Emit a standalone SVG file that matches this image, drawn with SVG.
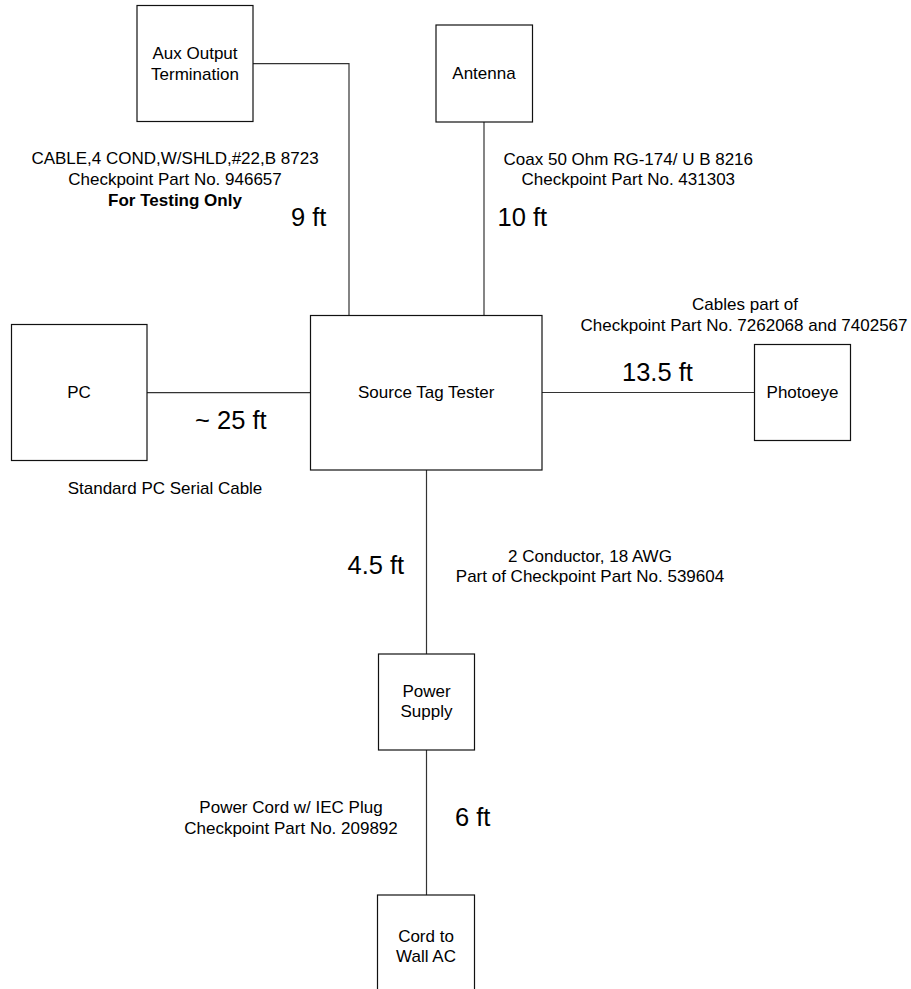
<svg xmlns="http://www.w3.org/2000/svg" width="911" height="989" viewBox="0 0 911 989">
<style>
.box{fill:#fff;stroke:#111;stroke-width:1.2}
.wire{fill:none;stroke:#333;stroke-width:1.2}
text{font-family:"Liberation Sans",Arial,sans-serif;fill:#000}
.n{font-size:17px;text-anchor:middle}
.s{font-size:17px;text-anchor:middle}
.b{font-size:17px;text-anchor:middle;font-weight:bold}
.l{font-size:25.5px}
</style>
<rect width="911" height="989" fill="#fff"/>
<g id="connectors">
<path class="wire" d="M253,63.7 H349 V315"/>
<path class="wire" d="M484,122 V315"/>
<path class="wire" d="M147,392.7 H310"/>
<path class="wire" d="M542,392.5 H754"/>
<path class="wire" d="M426.5,470 V654"/>
<path class="wire" d="M426.5,750 V895"/>
</g>
<g id="aux">
<rect class="box" x="137" y="5.5" width="116" height="116"/>
<text class="n" x="195" y="59">Aux Output</text>
<text class="n" x="195" y="79.5">Termination</text>
</g>
<g id="antenna">
<rect class="box" x="436" y="25" width="96.5" height="97"/>
<text class="n" x="484" y="79">Antenna</text>
</g>
<g id="stt">
<rect class="box" x="310.5" y="315.5" width="231.5" height="154.5"/>
<text class="n" x="426.2" y="398">Source Tag Tester</text>
</g>
<g id="pc">
<rect class="box" x="11.5" y="324.5" width="135.5" height="136"/>
<text class="n" x="79" y="398">PC</text>
</g>
<g id="photoeye">
<rect class="box" x="754.5" y="344.5" width="96" height="96"/>
<text class="n" x="802.5" y="398">Photoeye</text>
</g>
<g id="power">
<rect class="box" x="378.5" y="654" width="96" height="96"/>
<text class="n" x="426.5" y="697">Power</text>
<text class="n" x="426.5" y="717">Supply</text>
</g>
<g id="cord">
<rect class="box" x="377.5" y="895" width="97" height="100"/>
<text class="n" x="426" y="941.5">Cord to</text>
<text class="n" x="426" y="962">Wall AC</text>
</g>
<g id="labels">
<text class="s" x="175" y="164">CABLE,4 COND,W/SHLD,#22,B 8723</text>
<text class="s" x="175" y="185">Checkpoint Part No. 946657</text>
<text class="b" x="175" y="206">For Testing Only</text>
<text class="l" x="291" y="226">9 ft</text>
<text class="s" x="628.3" y="164.5">Coax 50 Ohm RG-174/ U B 8216</text>
<text class="s" x="628.3" y="185.3">Checkpoint Part No. 431303</text>
<text class="l" x="497.5" y="226">10 ft</text>
<text class="s" x="745" y="310">Cables part of</text>
<text class="s" x="744" y="330.5">Checkpoint Part No. 7262068 and 7402567</text>
<text class="l" x="622" y="380.5">13.5 ft</text>
<text class="l" x="195" y="428.5">~ 25 ft</text>
<text class="s" x="165" y="494">Standard PC Serial Cable</text>
<text class="l" x="347.5" y="574">4.5 ft</text>
<text class="s" x="590" y="561.5">2 Conductor, 18 AWG</text>
<text class="s" x="590" y="581.5">Part of Checkpoint Part No. 539604</text>
<text class="s" x="291" y="813">Power Cord w/ IEC Plug</text>
<text class="s" x="291" y="834">Checkpoint Part No. 209892</text>
<text class="l" x="455" y="826">6 ft</text>
</g>
</svg>
